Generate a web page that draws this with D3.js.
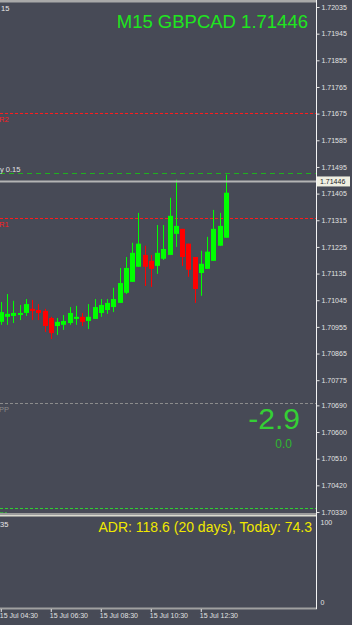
<!DOCTYPE html>
<html>
<head>
<meta charset="utf-8">
<title>M15 GBPCAD</title>
<style>
  html, body { margin: 0; padding: 0; background: #474a56; }
  svg { display: block; }
  text { font-family: "Liberation Sans", Arial, sans-serif; }
</style>
<script src="https://cdnjs.cloudflare.com/ajax/libs/d3/7.8.5/d3.min.js"></script>
</head>
<body>
<svg id="chart" width="352" height="625"></svg>
<script>
// M15 bars, first one at 15 Jul 04:30
var firstBar = new Date(2020, 6, 15, 4, 30);
var opens  = [1.70972,1.70989,1.70992,1.70995,1.71002,1.71016,1.71012,1.71009,1.70985,1.70958,1.70962,1.70968,1.70982,1.70989,1.70975,1.70982,1.71002,1.71012,1.71022,1.71036,1.71070,1.71107,1.71158,1.71198,1.71178,1.71161,1.71185,1.71198,1.71269,1.71286,1.71236,1.71191,1.71137,1.71151,1.71178,1.71229,1.71256];
var highs  = [1.71039,1.71066,1.71043,1.71029,1.71049,1.71046,1.71032,1.71016,1.70989,1.70985,1.70995,1.71022,1.71026,1.71002,1.71032,1.71049,1.71049,1.71049,1.71087,1.71154,1.71191,1.71239,1.71340,1.71229,1.71198,1.71299,1.71299,1.71391,1.71452,1.71286,1.71236,1.71191,1.71212,1.71259,1.71350,1.71340,1.71469];
var lows   = [1.70962,1.70962,1.70968,1.70978,1.70992,1.70978,1.70978,1.70938,1.70914,1.70928,1.70945,1.70962,1.70962,1.70958,1.70948,1.70982,1.70989,1.70999,1.71005,1.71036,1.71066,1.71107,1.71158,1.71093,1.71090,1.71134,1.71181,1.71198,1.71225,1.71161,1.71124,1.71036,1.71060,1.71151,1.71178,1.71229,1.71256];
var closes = [1.71005,1.70999,1.71002,1.71002,1.71032,1.71009,1.71002,1.70958,1.70934,1.70972,1.70975,1.71002,1.70989,1.70972,1.70989,1.71022,1.71029,1.71036,1.71049,1.71103,1.71154,1.71205,1.71236,1.71158,1.71151,1.71205,1.71218,1.71330,1.71296,1.71191,1.71148,1.71083,1.71168,1.71209,1.71286,1.71296,1.71408];

var priceTicks = [1.72035,1.71945,1.71855,1.71765,1.71675,1.71585,1.71495,1.71405,1.71315,1.71225,1.71135,1.71045,1.70955,1.70865,1.70775,1.70690,1.70600,1.70510,1.70420,1.70330];
var bid = 1.71446;

var levelNames  = ["R2", "y 0.15", "R1", "PP", "S1"];
var levelValues = [1.71678, 1.71476, 1.71321, 1.70698, 1.70343];

var timeTicks = ["04:30", "06:30", "08:30", "10:30", "12:30"];
var adrTicks = [0, 100];
var adr = 118.6, adrDays = 20, adrToday = 74.3;
var pipsMain = -2.9, pipsSub = 0.0;

var svg = d3.select("#chart");
var axisX = 316.5;

var y = d3.scaleLinear().domain([1.70330, 1.72035]).range([512, 7]);
var x = d3.scaleTime()
  .domain([firstBar, new Date(2020, 6, 15, 12, 30)])
  .range([0.75, 200.75]);
var ySub = d3.scaleLinear().domain([0, 100]).range([602, 522]);

var bars = opens.map(function(o, i) {
  return { t: new Date(+firstBar + i * 15 * 60000), o: o, h: highs[i], l: lows[i], c: closes[i] };
});

svg.append("defs").append("clipPath").attr("id", "main")
  .append("rect").attr("x", 0).attr("y", 2).attr("width", 316).attr("height", 511);

var main = svg.append("g").attr("clip-path", "url(#main)");

// pivot levels
var levelStyle = {
  "R2": { stroke: "#ff1c1c", dash: "3,2", fill: "#ff1a1a", above: false },
  "R1": { stroke: "#ff1c1c", dash: "3,2", fill: "#ff1a1a", above: false },
  "y 0.15": { stroke: "#1fb01f", dash: "5,4", fill: "#e0e0e0", above: true },
  "PP": { stroke: "#8c8c8c", dash: "3,2", fill: "#8c8c8c", above: false },
  "S1": { stroke: "#2fd02f", dash: "3,2", fill: "#2fd02f", above: false }
};
levelNames.forEach(function(n, i) {
  var st = levelStyle[n], ly = Math.round(y(levelValues[i])) + 0.5;
  main.append("line").attr("x1", 0).attr("x2", 316).attr("y1", ly).attr("y2", ly)
    .attr("stroke", st.stroke).attr("stroke-dasharray", st.dash);
  (st.above ? svg : main).append("text")
    .attr("x", st.above ? 0 : -1)
    .attr("y", st.above ? ly - 2 : ly + 8.5)
    .attr("font-size", 7.5).attr("fill", st.fill).text(n);
});

// candles
var cg = main.append("g");
bars.forEach(function(b) {
  var cx = Math.round(x(b.t));
  var col = b.c >= b.o ? "#00ff00" : "#ff0000";
  cg.append("rect").attr("x", cx).attr("width", 1)
    .attr("y", y(b.h)).attr("height", Math.max(1, y(b.l) - y(b.h))).attr("fill", col);
  var top = y(Math.max(b.o, b.c)), bot = y(Math.min(b.o, b.c));
  cg.append("rect").attr("x", cx - 2).attr("width", 5)
    .attr("y", top).attr("height", Math.max(1.5, bot - top)).attr("fill", col);
});

// bid line
main.append("line").attr("x1", 0).attr("x2", 316).attr("y1", y(bid)).attr("y2", y(bid))
  .attr("stroke", "#b4b4b4").attr("stroke-width", 2);

// texts
svg.append("text").attr("x", 1).attr("y", 11)
  .attr("font-size", 7.5).attr("fill", "#e8e8e8").text("15");
svg.append("text").attr("x", 308).attr("y", 28).attr("text-anchor", "end")
  .attr("font-size", 18.5).attr("fill", "#1ee61e").text("M15 GBPCAD " + bid.toFixed(5));
svg.append("text").attr("x", 300).attr("y", 429).attr("text-anchor", "end")
  .attr("font-size", 30).attr("fill", "#35cf35").text(pipsMain.toFixed(1));
svg.append("text").attr("x", 292).attr("y", 447.5).attr("text-anchor", "end")
  .attr("font-size", 12).attr("fill", "#30b830").text(pipsSub.toFixed(1));

// frame lines
svg.append("rect").attr("x", 0).attr("y", 0).attr("width", 316).attr("height", 2.5).attr("fill", "#a9a9a9");
svg.append("rect").attr("x", 0).attr("y", 513).attr("width", 317).attr("height", 2).attr("fill", "#9c9c9c");
svg.append("rect").attr("x", 0).attr("y", 515).attr("width", 317).attr("height", 1.5).attr("fill", "#dcdcd0");
svg.append("rect").attr("x", 0).attr("y", 607.5).attr("width", 317).attr("height", 2).attr("fill", "#a0a0a0");
svg.append("line").attr("x1", axisX).attr("x2", axisX).attr("y1", 0).attr("y2", 609)
  .attr("stroke", "#f4f4f4");

// price axis
var ya = svg.append("g").attr("transform", "translate(" + axisX + ",0)")
  .call(d3.axisRight(y).tickValues(priceTicks).tickFormat(d3.format(".5f")).tickSize(3).tickPadding(2));
ya.select(".domain").remove();
ya.selectAll("line").attr("stroke", "#e6e6e6");
ya.selectAll("text").attr("font-size", 7).attr("fill", "#e2e2e2").attr("font-family", "Liberation Sans, Arial, sans-serif");

// bid label
svg.append("rect").attr("x", 317).attr("y", y(bid) - 5).attr("width", 33).attr("height", 10).attr("fill", "#efefe2");
svg.append("text").attr("x", 320).attr("y", y(bid)).attr("dy", "0.35em")
  .attr("font-size", 7).attr("fill", "#1c1c24").text(bid.toFixed(5));

// sub window (ADR)
var sa = svg.append("g").attr("transform", "translate(" + axisX + ",0)")
  .call(d3.axisRight(ySub).tickValues(adrTicks).tickSize(0).tickPadding(4));
sa.select(".domain").remove();
sa.selectAll("text").attr("font-size", 7).attr("fill", "#e2e2e2").attr("font-family", "Liberation Sans, Arial, sans-serif");

svg.append("text").attr("x", 0).attr("y", 527).attr("font-size", 7.5).attr("fill", "#e8e8e8").text("35");
svg.append("text").attr("x", 312).attr("y", 532).attr("text-anchor", "end")
  .attr("font-family", "DejaVu Sans, sans-serif").attr("font-size", 14).attr("fill", "#f0e800")
  .text("ADR: " + adr.toFixed(1) + " (" + adrDays + " days), Today: " + adrToday.toFixed(1));

// time axis
var tParse = d3.timeParse("%Y-%m-%d %H:%M");
var xa = svg.append("g").attr("transform", "translate(0,609)")
  .call(d3.axisBottom(x)
    .tickValues(timeTicks.map(function(t) { return tParse("2020-07-15 " + t); }))
    .tickFormat(d3.timeFormat("%d %b %H:%M")).tickSize(3).tickPadding(1));
xa.select(".domain").remove();
xa.selectAll("line").attr("stroke", "#e6e6e6");
xa.selectAll("text").attr("text-anchor", "start").attr("dx", "-0.2em")
  .attr("font-size", 7).attr("fill", "#e2e2e2").attr("font-family", "Liberation Sans, Arial, sans-serif");
</script>
</body>
</html>
